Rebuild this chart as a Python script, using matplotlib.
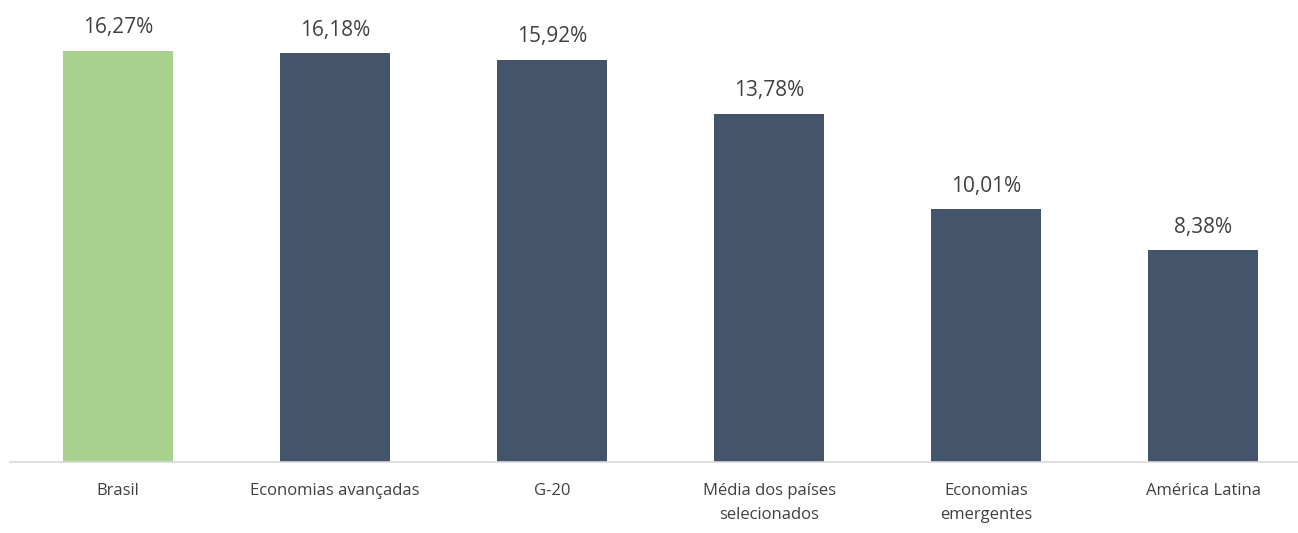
import matplotlib.pyplot as plt

categories = ["Brasil", "Economias avançadas", "G-20", "Média dos países\nselecionados",
              "Economias\nemergentes", "América Latina"]
values = [16.27, 16.18, 15.92, 13.78, 10.01, 8.38]
labels = ["16,27%", "16,18%", "15,92%", "13,78%", "10,01%", "8,38%"]
colors = ["#A9D18E", "#44546A", "#44546A", "#44546A", "#44546A", "#44546A"]

plt.rcParams["font.family"] = ["Open Sans", "DejaVu Sans"]

fig = plt.figure(figsize=(12.98, 5.33), dpi=100)
ax = fig.add_axes([10 / 1298, 71 / 533, 1288 / 1298, 462 / 533])

x = range(len(categories))
bars = ax.bar(x, values, width=0.505, color=colors)
for b, lab in zip(bars, labels):
    ax.text(b.get_x() + b.get_width() / 2, b.get_height() + 0.5, lab,
            ha="center", va="bottom", fontsize=15, color="#404040")

ax.set_xlim(-0.498, 5.437)
ax.set_ylim(0, 18.29)
ax.set_xticks(list(x))
ax.set_xticklabels(categories, fontsize=12, color="#404040", linespacing=1.65, va="top")
ax.tick_params(axis="x", length=0, pad=15)
ax.set_yticks([])
for s in ["top", "left", "right"]:
    ax.spines[s].set_visible(False)
ax.spines["bottom"].set_color("#D9D9D9")
ax.spines["bottom"].set_linewidth(1.2)

fig.savefig("out.png", dpi=100)
